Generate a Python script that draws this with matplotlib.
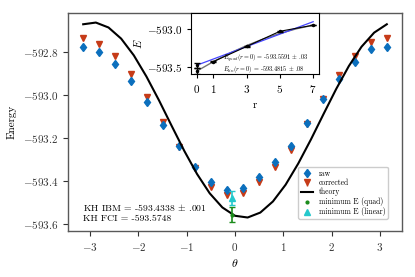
import matplotlib
matplotlib.use("Agg")
import matplotlib.pyplot as plt
from matplotlib.ticker import FuncFormatter
from matplotlib.lines import Line2D

plt.rcParams['font.family'] = ['cmr10', 'DejaVu Serif']
plt.rcParams['mathtext.fontset'] = 'cm'
plt.rcParams['axes.unicode_minus'] = False

# ---- data ----
theta = [-3.1416, -2.8109, -2.4802, -2.1495, -1.8188, -1.4881, -1.1574, -0.8267,
         -0.4960, -0.1653, 0.1653, 0.4960, 0.8267, 1.1574, 1.4881, 1.8188,
         2.1495, 2.4802, 2.8109, 3.1416]
raw = [-592.774, -592.801, -592.854, -592.935, -593.034, -593.140, -593.239, -593.338,
       -593.407, -593.443, -593.432, -593.381, -593.311, -593.238, -593.129, -593.019,
       -592.925, -592.844, -592.787, -592.776]
raw_err = [0.012] * 20
corrected = [-592.733, -592.761, -592.816, -592.902, -593.011, -593.125, -593.243, -593.342,
             -593.428, -593.467, -593.457, -593.408, -593.335, -593.257, -593.135, -593.021,
             -592.907, -592.818, -592.754, -592.735]
corr_err = [0.010] * 20

theta_theory = [-3.1416, -2.8798, -2.6180, -2.3562, -2.0944, -1.8326, -1.5708, -1.3090,
                -1.0472, -0.7854, -0.5236, -0.2618, 0.0, 0.2618, 0.5236, 0.7854, 1.0472,
                1.3090, 1.5708, 1.8326, 2.0944, 2.3562, 2.6180, 2.8798, 3.1416]
theory = [-592.670, -592.662, -592.685, -592.737, -592.815, -592.914, -593.026, -593.145,
          -593.262, -593.369, -593.459, -593.525, -593.564, -593.572, -593.549, -593.497,
          -593.419, -593.320, -593.208, -593.089, -592.972, -592.865, -592.775, -592.709,
          -592.670]

theta_min = -0.055
E_quad, E_quad_err = -593.5591, 0.035
E_lin, E_lin_err = -593.4815, 0.034

# inset data
r_pts = [1, 3, 5, 7]
E_r = [-593.434, -593.235, -593.036, -592.956]
E_r_err = [0.004, 0.004, 0.004, 0.004]
r_fit = [0, 1, 2, 3, 4, 5, 6, 7]
E_quad_fit = [-593.559, -593.434, -593.322, -593.223, -593.137, -593.064, -593.003, -592.956]
r_lin = [0, 7]
E_lin_fit = [-593.4815, -592.910]

xticks_main = [-3, -2, -1, 0, 1, 2, 3]
yticks_main = [-593.6, -593.4, -593.2, -593.0, -592.8]
xticks_inset = [0, 1, 3, 5, 7]
yticks_inset = [-593.5, -593.0]

blue = '#0b6fbd'
red = '#c63b18'
green = '#1b8c1b'
cyan = '#25c8cc'

W, H = 415, 277
fig = plt.figure(figsize=(W / 100, H / 100), dpi=100)
ax = fig.add_axes([68 / W, (H - 231) / H, (402 - 68) / W, (231 - 12.7) / H])

ax.errorbar(theta, raw, yerr=raw_err, fmt='d', color=blue, ms=4.5, elinewidth=1.0,
            capsize=0, label='raw', zorder=3)
ax.errorbar(theta, corrected, yerr=corr_err, fmt='v', color=red, ms=4.5, elinewidth=1.0,
            capsize=0, label='corrected', zorder=2)
ax.plot(theta_theory, theory, color='black', lw=1.5, label='theory', zorder=4)
ax.errorbar([theta_min], [E_quad], yerr=[E_quad_err], fmt='.', color=green, ms=4,
            elinewidth=1.2, capsize=2.5, capthick=1.0, label='minimum E (quad)', zorder=5)
ax.errorbar([theta_min], [E_lin], yerr=[E_lin_err], fmt='^', color=cyan, ms=4,
            elinewidth=1.2, capsize=2.5, capthick=1.0, label='minimum E (linear)', zorder=5)

ax.set_xlim(-3.456, 3.456)
ax.set_ylim(-593.635, -592.616)
ax.set_xticks(xticks_main)
ax.set_yticks(yticks_main)
ax.xaxis.set_major_formatter(FuncFormatter(lambda v, p: r'$%d$' % round(v)))
ax.yaxis.set_major_formatter(FuncFormatter(lambda v, p: r'$%.1f$' % v))
ax.tick_params(labelsize=8, length=3.5, width=0.8, colors='0.2')
for s in ax.spines.values():
    s.set_color('0.35')
    s.set_linewidth(1.0)
ax.set_xlabel(r'$\theta$', fontsize=8.5)
ax.set_ylabel('Energy', fontsize=8)
ax.xaxis.set_label_coords(0.5, -0.118)
ax.yaxis.set_label_coords(-0.153, 0.5)

ax.text(0.044, 0.092, r'KH IBM = -593.4338 $\pm$ .001', transform=ax.transAxes,
        fontsize=7, va='baseline')
ax.text(0.044, 0.046, 'KH FCI = -593.5748', transform=ax.transAxes,
        fontsize=7, va='baseline')

handles, labels = ax.get_legend_handles_labels()
order = ['raw', 'corrected', 'theory', 'minimum E (quad)', 'minimum E (linear)']
hmap = dict(zip(labels, handles))
hmap['minimum E (quad)'] = Line2D([], [], ls='none', marker='.', color=green, ms=4)
hmap['minimum E (linear)'] = Line2D([], [], ls='none', marker='^', color=cyan, ms=4)
ax.legend([hmap[k] for k in order], order, loc='lower right',
          bbox_to_anchor=((388 - 68) / 334, (231 - 219) / 218.3), borderaxespad=0,
          fontsize=5.5, frameon=True, framealpha=1, edgecolor='0.8',
          handlelength=1.5, borderpad=0.35, labelspacing=0.12, handletextpad=0.8)

# ---- inset ----
ins = fig.add_axes([191 / W, (H - 74) / H, (319 - 191) / W, (74 - 12.7) / H])
ins.plot(r_fit, E_quad_fit, color='0.45', lw=1.0, zorder=2)
ins.plot(r_lin, E_lin_fit, color='#4444ff', lw=0.9, zorder=3)
ins.errorbar(r_pts, E_r, yerr=E_r_err, fmt='-', color='black', lw=0.8, marker='.',
             ms=3, capsize=2.5, capthick=1.0, zorder=4)
ins.errorbar([0, 0], [E_quad, E_lin], yerr=[E_quad_err, E_lin_err], fmt='.', color='black',
             ms=3, capsize=2.5, capthick=1.0, elinewidth=1.0, zorder=4)
ins.set_xlim(-0.35, 7.35)
ins.set_ylim(-593.597, -592.792)
ins.set_xticks(xticks_inset)
ins.set_yticks(yticks_inset)
ins.xaxis.set_major_formatter(FuncFormatter(lambda v, p: r'$%d$' % round(v)))
ins.yaxis.set_major_formatter(FuncFormatter(lambda v, p: r'$%.1f$' % v))
ins.tick_params(labelsize=8, length=3, width=0.8)
ins.set_xlabel('r', fontsize=8)
ins.set_ylabel(r'$E$', fontsize=8)
ins.xaxis.set_label_coords(0.5, -0.43)
ins.yaxis.set_label_coords(-0.37, 0.5)
ins.text(0.25, 0.225, r'$E_{quad}(r=0)$ = -593.5591 $\pm$ .03', transform=ins.transAxes,
         fontsize=4.5, va='baseline')
ins.text(0.25, 0.05, r'$E_{lin}(r=0)$ = -593.4815 $\pm$ .08', transform=ins.transAxes,
         fontsize=4.5, va='baseline')

fig.savefig('out.png', dpi=100)
